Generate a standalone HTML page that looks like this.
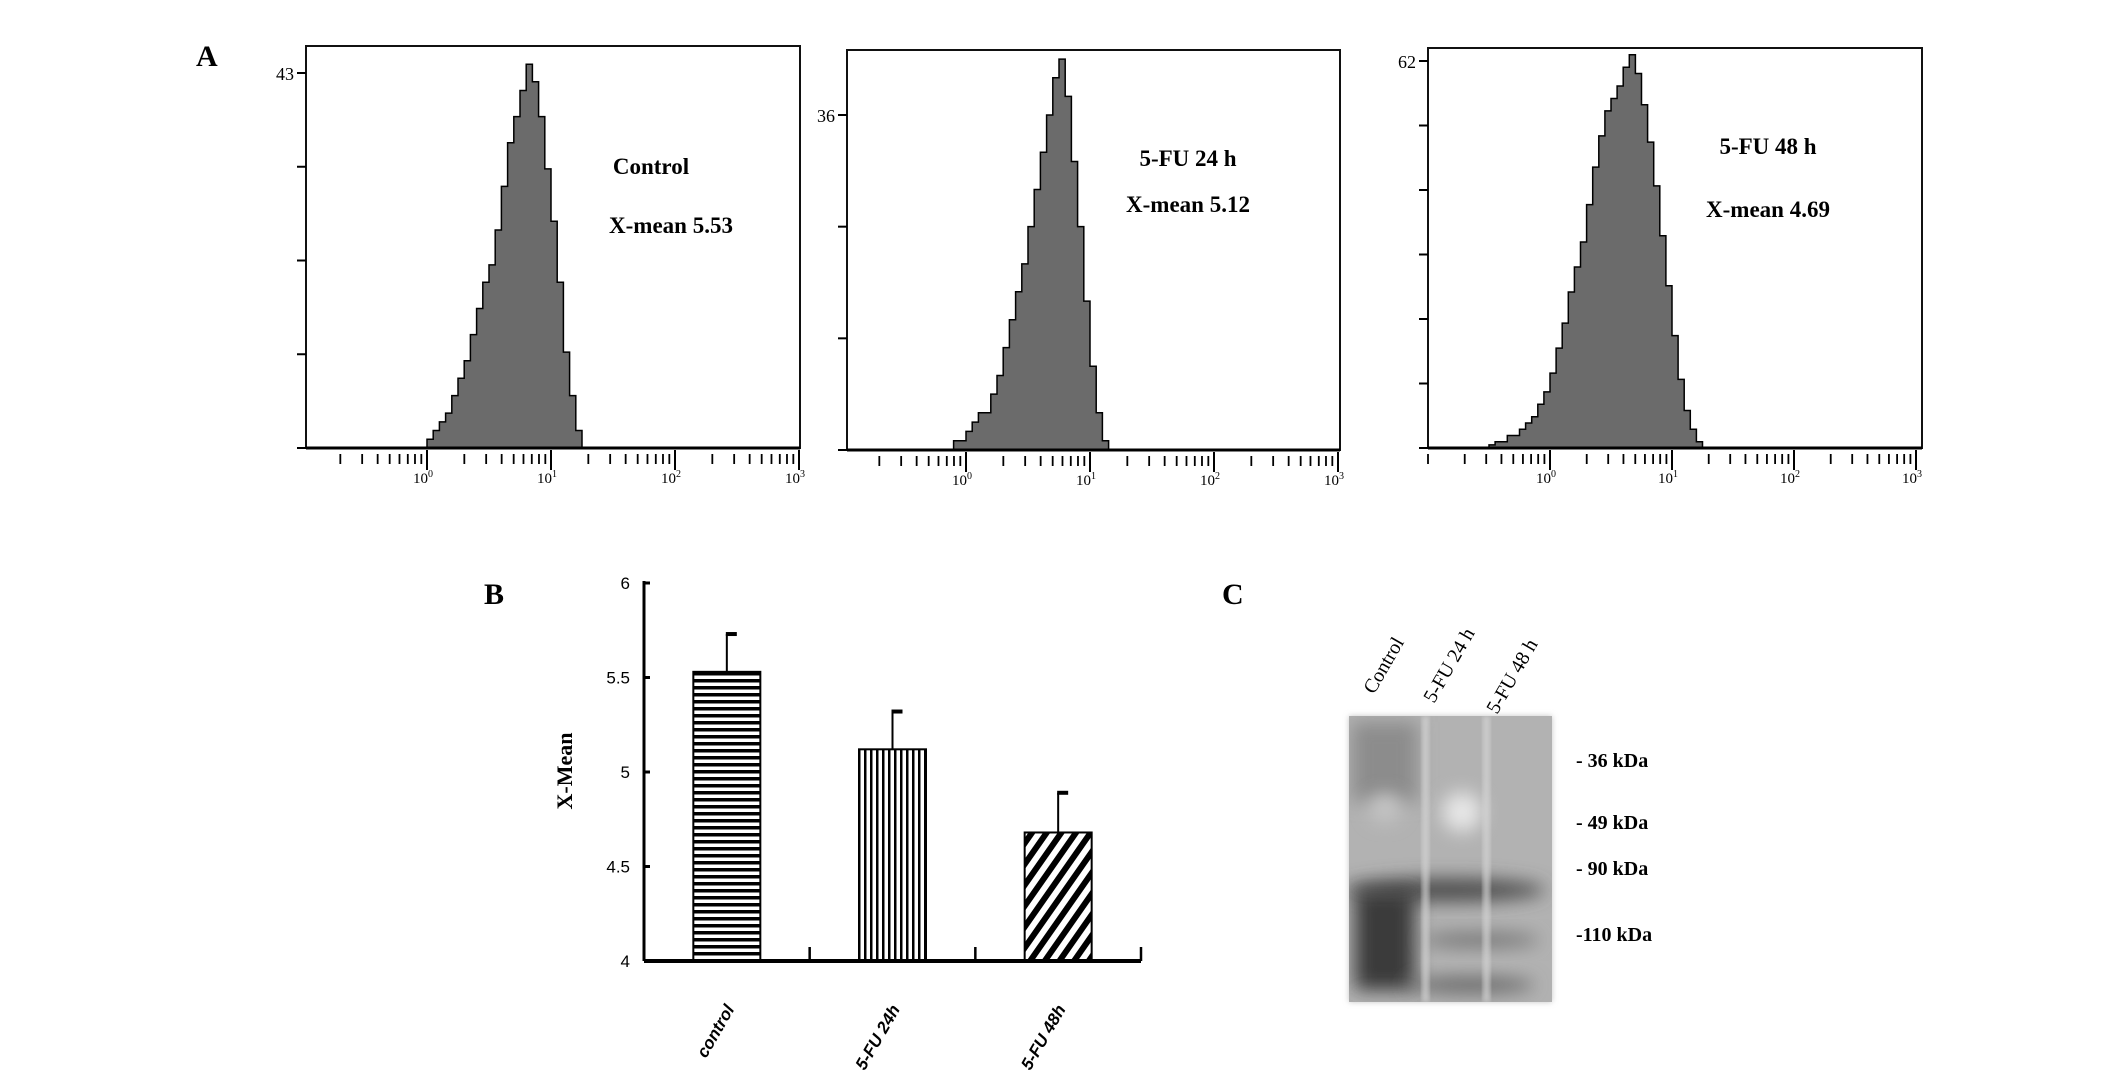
<!DOCTYPE html>
<html><head><meta charset="utf-8"><style>
html,body{margin:0;padding:0;background:#fff;}
svg{display:block;font-family:"Liberation Serif",serif;}
</style></head><body>
<svg id="fig" width="2126" height="1081" viewBox="0 0 2126 1081">
<defs>
<pattern id="hstripe" width="8" height="7" patternUnits="userSpaceOnUse"><rect width="8" height="7" fill="#fff"/><rect y="0" width="8" height="3.5" fill="#000"/></pattern>
<pattern id="vstripe" width="6" height="8" patternUnits="userSpaceOnUse"><rect width="6" height="8" fill="#fff"/><rect x="0" width="2.5" height="8" fill="#000"/></pattern>
<pattern id="dstripe" width="12" height="12" patternUnits="userSpaceOnUse" patternTransform="rotate(35)"><rect width="12" height="12" fill="#fff"/><rect width="6" height="12" fill="#000"/></pattern>
<filter id="blur8" x="-100%" y="-100%" width="300%" height="300%"><feGaussianBlur stdDeviation="9"/></filter>
<filter id="blur3" x="-50%" y="-50%" width="200%" height="200%"><feGaussianBlur stdDeviation="3"/></filter>
<clipPath id="blotclip"><rect x="1349" y="716" width="203" height="286"/></clipPath>
</defs>
<text x="196" y="66" font-size="30" font-weight="bold">A</text>
<text x="484" y="604" font-size="30" font-weight="bold">B</text>
<text x="1222" y="604" font-size="30" font-weight="bold">C</text>
<g id="hists"></g>
<g id="barchart"></g>
<g id="blot">
 <rect x="1349" y="716" width="203" height="286" fill="#c4c4c4" filter="url(#blur3)"/>
 <g clip-path="url(#blotclip)">
 <rect x="1349" y="716" width="203" height="286" fill="#b2b2b2"/>
 <rect x="1352" y="722" width="66" height="80" fill="#8c8c8c" filter="url(#blur8)"/>
 <ellipse cx="1462" cy="812" rx="20" ry="20" fill="#e6e6e6" filter="url(#blur8)"/>
 <ellipse cx="1385" cy="808" rx="16" ry="14" fill="#c6c6c6" filter="url(#blur8)"/>
 <ellipse cx="1445" cy="890" rx="100" ry="12" fill="#505050" filter="url(#blur8)"/>
 <rect x="1355" y="890" width="60" height="100" fill="#3a3a3a" filter="url(#blur8)"/>
 <ellipse cx="1480" cy="940" rx="60" ry="7" fill="#727272" filter="url(#blur8)"/>
 <ellipse cx="1470" cy="985" rx="65" ry="8" fill="#666" filter="url(#blur8)"/>
 <rect x="1423" y="716" width="5" height="286" fill="#d6d6d6" filter="url(#blur3)"/>
 <rect x="1484" y="716" width="5" height="286" fill="#d6d6d6" filter="url(#blur3)"/>
 </g>
</g>
<g id="blot-labels"></g>
</svg>
<script>
const NS="http://www.w3.org/2000/svg";
function el(tag,attrs,parent,txt){const e=document.createElementNS(NS,tag);for(const k in attrs)e.setAttribute(k,attrs[k]);if(txt!==undefined)e.textContent=txt;parent.appendChild(e);return e;}

/* ---------- Panel A histogram data (log10 bin start, step 0.05) ---------- */
const histStart=[0.0,-0.1,-0.5];
const histCounts1=[1,2,3,4,6,8,10,13,16,19,21,25,30,35,38,41,44,42,38,32,26,19,11,6,2];
const histCounts2=[1,1,2,3,4,4,6,8,11,14,17,20,24,28,32,36,40,42,38,31,24,16,9,4,1];
const histCounts3=[0.5,1,1,2,2,3,4,5,7,9,12,16,20,25,29,33,39,45,50,54,56,58,61,63,60,55,49,42,34,26,18,11,6,3,1];
const histTitles=["Control","5-FU 24 h","5-FU 48 h"];
const histMeans=["X-mean  5.53","X-mean 5.12","X-mean 4.69"];
const histYMax=[43,36,62];
const decadeLabels=["0","1","2","3"];

const frames=[
 {x0:306,x1:800,y0:46,y1:448,xDec0:427,dec:124,yTop:73,nTicks:4,tx:651,ty1:174,tx2:671,ty2:233},
 {x0:847,x1:1340,y0:50,y1:450,xDec0:966,dec:124,yTop:115,nTicks:3,tx:1188,ty1:166,tx2:1188,ty2:212},
 {x0:1428,x1:1922,y0:48,y1:448,xDec0:1550,dec:122,yTop:61,nTicks:6,tx:1768,ty1:154,tx2:1768,ty2:217}
];
const allCounts=[histCounts1,histCounts2,histCounts3];
const hg=document.getElementById('hists');
frames.forEach((f,i)=>{
 const g=el('g',{},hg);
 
 
 const xs=v=>f.xDec0+v*f.dec;
 const ys=c=>f.y1-c/histYMax[i]*(f.y1-f.yTop);
 const cnt=allCounts[i];let d='M'+xs(histStart[i])+','+f.y1;
 cnt.forEach((c,j)=>{const a=xs(histStart[i]+j*0.05),b=xs(histStart[i]+(j+1)*0.05);const y=Math.max(ys(c),f.y0+1);d+=' L'+a+','+y+' L'+b+','+y;});
 d+=' L'+xs(histStart[i]+cnt.length*0.05)+','+f.y1+' Z';
 const p=el('path',{d:d,fill:'#6b6b6b',stroke:'#000','stroke-width':1.5},g);
 
 
 const r=el('rect',{x:f.x0,y:f.y0,width:f.x1-f.x0,height:f.y1-f.y0,fill:'none',stroke:'#111','stroke-width':2},g);
 
 
 el('line',{x1:f.x0,y1:f.y1,x2:f.x1,y2:f.y1,stroke:'#000','stroke-width':3},g);
 for(let k=0;k<=f.nTicks;k++){const y=f.y1-k*(f.y1-f.yTop)/f.nTicks;el('line',{x1:f.x0-9,y1:y,x2:f.x0,y2:y,stroke:'#000','stroke-width':2},g);}
 const yl=el('text',{x:f.x0-12,y:f.yTop+7,'font-size':18,'text-anchor':'end'},g,String(histYMax[i]));
 
 
 for(let dd=-1;dd<3;dd++){for(let m=1;m<=10;m++){const x=xs(dd+Math.log10(m));if(x<f.x0-1||x>f.x1+1)continue;el('line',{x1:x,y1:f.y1+(m==10?2:6),x2:x,y2:f.y1+(m==10?22:16),stroke:'#000','stroke-width':m==10?2:1.8},g);}}
 decadeLabels.forEach((s,k)=>{const t=el('text',{x:xs(k)-4,y:f.y1+35,'font-size':15,'text-anchor':'middle'},g,'10');el('tspan',{dy:-6,'font-size':10},t,s);
  
  });
 const t1=el('text',{x:f.tx,y:f.ty1,'font-size':23,'font-weight':'bold','text-anchor':'middle'},g,histTitles[i]);
 
 
 const t2=el('text',{x:f.tx2,y:f.ty2,'font-size':23,'font-weight':'bold','text-anchor':'middle'},g,histMeans[i]);
 
 
});

/* ---------- Panel B bar chart ---------- */
const barCats=["control","5-FU 24h","5-FU 48h"];
const barValues=[5.53,5.12,4.68];
const barErrors=[0.20,0.20,0.21];
const yTicks=[4,4.5,5,5.5,6];
const yTickLabels=["4","4.5","5","5.5","6"];
const fills=["url(#hstripe)","url(#vstripe)","url(#dstripe)"];
const bg=document.getElementById('barchart');
const AX={x0:644,x1:1141,y0:961,y1:583,vmin:4,vmax:6};
const yS=v=>AX.y0-(v-AX.vmin)/(AX.vmax-AX.vmin)*(AX.y0-AX.y1);
const band=(AX.x1-AX.x0)/barCats.length;
const xC=i=>AX.x0+band*(i+0.5);
const bw=67;
barCats.forEach((c,i)=>{
 const b=el('rect',{x:xC(i)-bw/2,y:yS(barValues[i]),width:bw,height:yS(AX.vmin)-yS(barValues[i]),fill:fills[i],stroke:'#000','stroke-width':2},bg);
 
 
 const e=el('line',{x1:xC(i),y1:yS(barValues[i]),x2:xC(i),y2:yS(barValues[i]+barErrors[i]),stroke:'#000','stroke-width':2},bg);
 
 
 el('line',{x1:xC(i)-1,y1:yS(barValues[i]+barErrors[i]),x2:xC(i)+10,y2:yS(barValues[i]+barErrors[i]),stroke:'#000','stroke-width':4},bg);
 const tx=xC(i)+8,ty=AX.y0+48;
 const t=el('text',{x:tx,y:ty,'font-size':17,'font-weight':'bold','font-style':'italic','font-family':'Liberation Sans, sans-serif','text-anchor':'end',transform:'rotate(-60 '+tx+' '+ty+')'},bg,c);
 
 
});
el('line',{x1:AX.x0,y1:AX.y1-2,x2:AX.x0,y2:AX.y0,stroke:'#000','stroke-width':3},bg);
const xa=el('line',{x1:AX.x0,y1:AX.y0,x2:AX.x1,y2:AX.y0,stroke:'#000','stroke-width':4},bg);


for(let k=1;k<=barCats.length;k++){const x=AX.x0+band*k;el('line',{x1:x,y1:AX.y0-14,x2:x,y2:AX.y0,stroke:'#000','stroke-width':2.5},bg);}
yTicks.forEach((v,k)=>{el('line',{x1:AX.x0,y1:yS(v),x2:AX.x0+6,y2:yS(v),stroke:'#000','stroke-width':3},bg);
 const t=el('text',{x:AX.x0-14,y:yS(v)+6,'font-size':17,'text-anchor':'end','font-family':'Liberation Sans, sans-serif'},bg,yTickLabels[k]);
 
 });
const yt=el('text',{x:572,y:771,'font-size':22,'font-weight':'bold','text-anchor':'middle',transform:'rotate(-90 572 771)'},bg,'X-Mean');



/* ---------- Panel C labels ---------- */
const lanes=["Control","5-FU 24 h","5-FU 48 h"];
const laneX=[1374,1434,1497],laneY=[695,704,715];
const markers=["-  36 kDa","-  49 kDa","-  90 kDa","-110 kDa"];
const markerY=[767,829,875,941];
const lg=document.getElementById('blot-labels');
lanes.forEach((s,i)=>{const t=el('text',{x:laneX[i],y:laneY[i],'font-size':20,transform:'rotate(-60 '+laneX[i]+' '+laneY[i]+')'},lg,s);
 
 });
markers.forEach((s,i)=>{const t=el('text',{x:1576,y:markerY[i],'font-size':20,'font-weight':'bold'},lg,s);
 
 });
</script>
</body></html>
